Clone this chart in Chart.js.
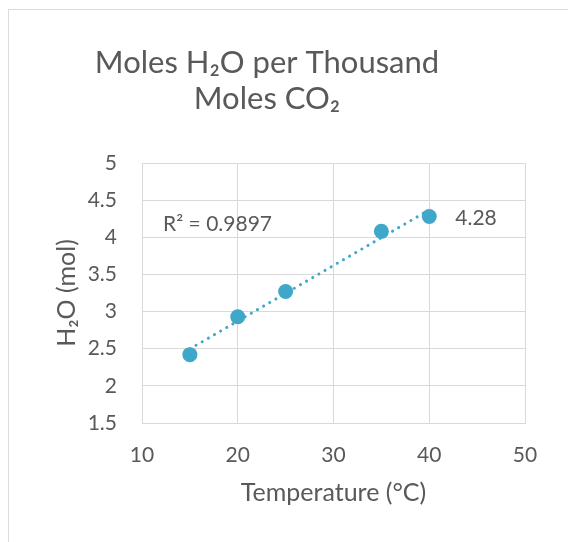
<!DOCTYPE html>
<html>
<head>
<meta charset="utf-8">
<script src="https://cdn.jsdelivr.net/npm/chart.js@4"></script>
<style>
  html, body { margin: 0; padding: 0; background: #ffffff; }
  body { width: 568px; height: 542px; position: relative; overflow: hidden; }
  #frame { position: absolute; left: 8px; top: 9px; width: 600px; height: 600px; border: 1px solid #dcdcdc; box-sizing: border-box; }
  #wrap { position: absolute; left: 0; top: 0; width: 545px; height: 542px; }
</style>
</head>
<body>
<div id="frame"></div>
<div id="wrap"><canvas id="c" width="545" height="542"></canvas></div>
<script>
const temperatures = [15, 20, 25, 35, 40];
const waterMoles = [2.42, 2.93, 3.27, 4.08, 4.28];
const xTicks = [10, 20, 30, 40, 50];
const yTicks = [1.5, 2, 2.5, 3, 3.5, 4, 4.5, 5];
const titleLines = ['Moles H\u2082O per Thousand', 'Moles CO\u2082'];
const xTitle = 'Temperature (\u00B0C)';
const yTitle = 'H\u2082O (mol)';
const r2Label = 'R\u00B2 = 0.9897';
const lastLabel = '4.28';

const TEXT = '#595959';
const GRID = '#d9d9d9';
const BLUE = '#3fa7c9';
const FONT = 'Lato, "Open Sans", sans-serif';

// least-squares trendline from the data
const n = temperatures.length;
const mx = temperatures.reduce((a, b) => a + b, 0) / n;
const my = waterMoles.reduce((a, b) => a + b, 0) / n;
let sxy = 0, sxx = 0;
for (let i = 0; i < n; i++) { sxy += (temperatures[i] - mx) * (waterMoles[i] - my); sxx += (temperatures[i] - mx) ** 2; }
const slope = sxy / sxx, intercept = my - slope * mx;
const xMin = Math.min(...temperatures), xMax = Math.max(...temperatures);
const trend = [{x: xMin, y: intercept + slope * xMin}, {x: xMax, y: intercept + slope * xMax}];

const labelsPlugin = {
  id: 'labels',
  afterDatasetsDraw(chart) {
    const {ctx, scales: {x, y}} = chart;
    ctx.save();
    ctx.fillStyle = TEXT;
    ctx.font = '21px ' + FONT;
    ctx.textBaseline = 'middle';
    ctx.textAlign = 'left';
    const li = n - 1;
    ctx.fillText(lastLabel, x.getPixelForValue(temperatures[li]) + 26, y.getPixelForValue(waterMoles[li]) + 2);
    ctx.fillText(r2Label, x.getPixelForValue(12.2), y.getPixelForValue(4.17));
    ctx.restore();
  }
};

new Chart(document.getElementById('c'), {
  type: 'scatter',
  data: {
    datasets: [
      {
        label: 'H2O',
        data: temperatures.map((t, i) => ({x: t, y: waterMoles[i]})),
        backgroundColor: BLUE,
        borderColor: BLUE,
        pointRadius: 7.5,
        pointHoverRadius: 7.5,
        borderWidth: 0
      },
      {
        label: 'Trend',
        type: 'line',
        data: trend,
        borderColor: BLUE,
        borderWidth: 3,
        borderDash: [0.1, 7],
        borderCapStyle: 'round',
        pointRadius: 0,
        fill: false
      }
    ]
  },
  options: {
    responsive: false,
    animation: false,
    layout: { padding: { left: 9, right: 20, top: 0, bottom: 0 } },
    plugins: {
      legend: { display: false },
      tooltip: { enabled: false },
      title: {
        display: true,
        text: titleLines,
        color: TEXT,
        font: { family: FONT, size: 31, weight: 'normal', lineHeight: '36px' },
        padding: { top: 45, bottom: 46 }
      }
    },
    scales: {
      x: {
        type: 'linear',
        min: 10, max: 50,
        afterBuildTicks: (s) => { s.ticks = xTicks.map(v => ({value: v})); },
        afterFit: (s) => { s.height = 119; s.paddingLeft = 0; s.paddingRight = 0; },
        grid: { color: GRID, lineWidth: 1, drawTicks: false },
        border: { color: GRID },
        ticks: { color: TEXT, font: { family: FONT, size: 21 }, padding: 20, callback: (v) => String(v) },
        title: { display: true, text: xTitle, color: TEXT, font: { family: FONT, size: 25 }, padding: { top: 0, bottom: 34 } }
      },
      y: {
        type: 'linear',
        min: 1.5, max: 5,
        afterBuildTicks: (s) => { s.ticks = yTicks.map(v => ({value: v})); },
        afterFit: (s) => { s.width = 133; s.paddingTop = 0; s.paddingBottom = 0; },
        grid: { color: GRID, lineWidth: 1, drawTicks: false },
        border: { color: GRID },
        ticks: { color: TEXT, font: { family: FONT, size: 21 }, padding: 25, callback: (v) => String(v) },
        title: { display: true, text: yTitle, color: TEXT, font: { family: FONT, size: 25 }, padding: { top: 43, bottom: 0 } }
      }
    }
  },
  plugins: [labelsPlugin]
});
</script>
</body>
</html>
